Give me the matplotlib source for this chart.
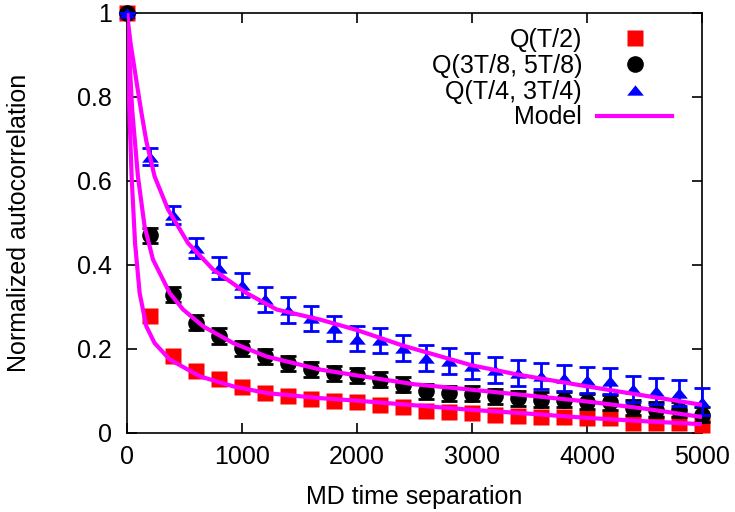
import matplotlib
matplotlib.use("Agg")
import matplotlib.pyplot as plt
from matplotlib.ticker import FuncFormatter

plt.rcParams['font.family'] = ['Liberation Sans', 'DejaVu Sans']
plt.rcParams['font.size'] = 18

# MD time separation
sep = [0, 200, 400, 600, 800, 1000, 1200, 1400, 1600, 1800, 2000, 2200, 2400,
       2600, 2800, 3000, 3200, 3400, 3600, 3800, 4000, 4200, 4400, 4600, 4800, 5000]

q_half = [1.0, 0.278, 0.184, 0.147, 0.128, 0.109, 0.095, 0.089, 0.080, 0.076, 0.075,
          0.067, 0.063, 0.053, 0.050, 0.047, 0.044, 0.041, 0.039, 0.037, 0.036,
          0.036, 0.025, 0.025, 0.023, 0.018]

q_38 = [1.0, 0.471, 0.329, 0.263, 0.231, 0.202, 0.183, 0.166, 0.152, 0.142, 0.137,
        0.127, 0.115, 0.099, 0.095, 0.094, 0.087, 0.083, 0.079, 0.079, 0.075,
        0.073, 0.060, 0.055, 0.055, 0.044]
q_38_err = [0.0, 0.018, 0.018, 0.018, 0.018, 0.018, 0.018, 0.018, 0.018, 0.018, 0.018,
            0.018, 0.018, 0.018, 0.018, 0.018, 0.018, 0.018, 0.018, 0.018, 0.018,
            0.018, 0.018, 0.018, 0.018, 0.018]

q_14 = [1.0, 0.658, 0.519, 0.440, 0.392, 0.352, 0.318, 0.293, 0.273, 0.249, 0.225,
        0.221, 0.202, 0.179, 0.171, 0.159, 0.149, 0.143, 0.135, 0.131, 0.127,
        0.123, 0.105, 0.099, 0.095, 0.075]
q_14_err = [0.0, 0.020, 0.021, 0.024, 0.026, 0.028, 0.029, 0.030, 0.030, 0.030, 0.030,
            0.030, 0.031, 0.031, 0.031, 0.031, 0.031, 0.031, 0.031, 0.031, 0.031,
            0.031, 0.031, 0.031, 0.031, 0.031]

# model curves
model_x_lo = [0, 20, 40, 70, 110, 168, 240, 372, 633, 924, 1215, 1680, 2000, 2500,
              3000, 3500, 4000, 4500, 5000]
model_lo = [1.0, 0.77, 0.611, 0.452, 0.333, 0.254, 0.214, 0.175, 0.135, 0.111, 0.095,
            0.083, 0.077, 0.066, 0.055, 0.046, 0.036, 0.028, 0.021]

model_x_mid = [0, 45, 95, 153, 226, 372, 488, 662, 924, 1215, 1680, 2000, 2500, 3000,
               3500, 4000, 4500, 5000]
model_mid = [1.0, 0.77, 0.611, 0.492, 0.413, 0.333, 0.294, 0.254, 0.214, 0.182, 0.151,
             0.137, 0.116, 0.103, 0.089, 0.075, 0.058, 0.038]

model_x_hi = [0, 30, 75, 124, 168, 240, 357, 531, 750, 1040, 1302, 1680, 2000, 2400,
              3000, 3400, 4000, 4500, 5000]
model_hi = [1.0, 0.93, 0.85, 0.765, 0.695, 0.611, 0.532, 0.452, 0.389, 0.333, 0.294,
            0.270, 0.245, 0.208, 0.161, 0.139, 0.111, 0.089, 0.067]

fig = plt.figure(figsize=(7.35, 5.12), dpi=100)
ax = fig.add_axes([127 / 735, 79 / 512, 575 / 735, 420 / 512])

red_pts, = ax.plot(sep, q_half, ls='none', marker='s', ms=12, color='#ff0000',
                   mec='none', clip_on=False, zorder=3, label='Q(T/2)')
eb_k = ax.errorbar(sep, q_38, yerr=q_38_err, fmt='none', ecolor='black',
                   elinewidth=2, capsize=6, capthick=2, zorder=4)
black_pts, = ax.plot(sep, q_38, ls='none', marker='o', ms=12, color='black',
                     mec='none', clip_on=False, zorder=4, label='Q(3T/8, 5T/8)')
tri = [(-1, -0.62), (1, -0.62), (0, 0.62)]
eb_b = ax.errorbar(sep, q_14, yerr=q_14_err, fmt='none', ecolor='#0000ff',
                   elinewidth=2, capsize=6, capthick=2, zorder=5)
blue_pts, = ax.plot(sep, q_14, ls='none', marker=tri, ms=12, color='#0000ff',
                    mec='none', clip_on=False, zorder=5, label='Q(T/4, 3T/4)')
for eb in (eb_k, eb_b):
    for art in list(eb.lines[1]) + list(eb.lines[2]):
        art.set_clip_on(False)

model_line, = ax.plot(model_x_lo, model_lo, color='#ff00ff', lw=3, zorder=6,
                      label='Model')
ax.plot(model_x_mid, model_mid, color='#ff00ff', lw=3, zorder=6)
ax.plot(model_x_hi, model_hi, color='#ff00ff', lw=3, zorder=6)

ax.set_xlim(0, 5000)
ax.set_ylim(0, 1)
ax.set_xticks([0, 1000, 2000, 3000, 4000, 5000])
ax.set_yticks([0, 0.2, 0.4, 0.6, 0.8, 1.0])
ax.yaxis.set_major_formatter(FuncFormatter(lambda v, p: '%g' % v))
ax.tick_params(direction='in', length=7, width=1.2, top=True, right=True,
               labelsize=18)
ax.tick_params(axis='y', pad=11)
ax.tick_params(axis='x', pad=9)
for s in ax.spines.values():
    s.set_linewidth(1.2)

ax.set_xlabel('MD time separation', fontsize=18, labelpad=11)
ax.set_ylabel('Normalized autocorrelation', fontsize=18, labelpad=33)

ax.legend(handles=[red_pts, black_pts, blue_pts, model_line], loc='upper right',
          bbox_to_anchor=(0.948, 0.964), frameon=False, markerfirst=False,
          numpoints=1, handlelength=3.0, handletextpad=0.6, labelspacing=0.07,
          borderpad=0, borderaxespad=0, fontsize=18)

fig.savefig('out.png', dpi=100)
